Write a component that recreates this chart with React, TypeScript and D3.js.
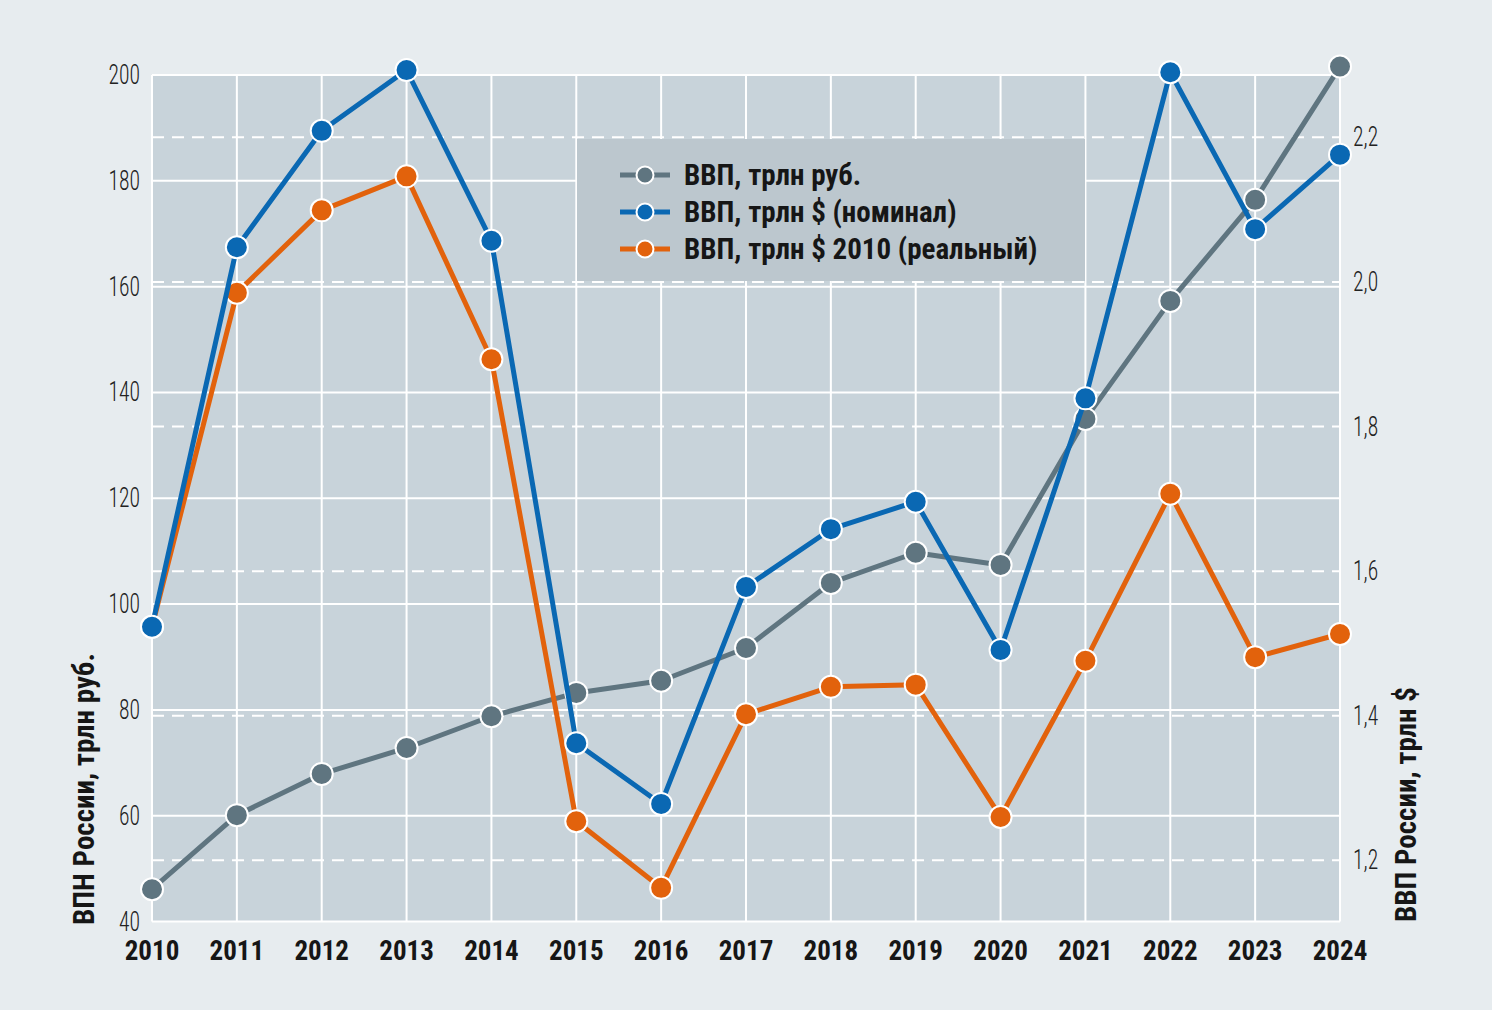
import React, { useEffect, useRef } from "react";
import * as d3 from "d3";

const years = [2010, 2011, 2012, 2013, 2014, 2015, 2016, 2017, 2018, 2019, 2020, 2021, 2022, 2023, 2024];
const gdpRub = [46.1, 60.1, 67.9, 72.8, 78.8, 83.2, 85.5, 91.7, 104.0, 109.7, 107.4, 135.0, 157.3, 176.4, 201.6];
const gdpUsdNominal = [1.523, 2.048, 2.209, 2.293, 2.057, 1.362, 1.278, 1.578, 1.658, 1.696, 1.491, 1.839, 2.29, 2.073, 2.176];
const gdpUsdReal = [1.523, 1.985, 2.099, 2.146, 1.893, 1.254, 1.162, 1.402, 1.44, 1.443, 1.26, 1.476, 1.707, 1.481, 1.513];
const leftTicks = [40, 60, 80, 100, 120, 140, 160, 180, 200];
const rightTicks = [1.2, 1.4, 1.6, 1.8, 2.0, 2.2];
const legendLabels = ["ВВП, трлн руб.", "ВВП, трлн $ (номинал)", "ВВП, трлн $ 2010 (реальный)"];

const colors = ["#5f7580", "#0a68b3", "#e2620c"];
const condensed = "'Roboto Condensed', 'Liberation Sans Narrow', 'DejaVu Sans Condensed', Roboto, sans-serif";

const App = () => {
  const svgRef = useRef<SVGSVGElement>(null);

  useEffect(() => {
    const W = 1492;
    const H = 1010;
    const m = { top: 75, left: 152, right: 1340, bottom: 921.5 };

    const svg = d3.select(svgRef.current).attr("width", W).attr("height", H);
    svg.selectAll("*").remove();

    svg.append("rect").attr("width", W).attr("height", H).attr("fill", "#e7ecef");

    const x = d3.scaleLinear().domain([2010, 2024]).range([m.left, m.right]);
    const yL = d3.scaleLinear().domain([40, 200]).range([m.bottom, m.top]);
    const yR = d3.scaleLinear().domain([1.1154, 2.2862]).range([m.bottom, m.top]);

    svg
      .append("rect")
      .attr("x", m.left)
      .attr("y", m.top)
      .attr("width", m.right - m.left)
      .attr("height", m.bottom - m.top)
      .attr("fill", "#c8d3da");

    const grid = svg.append("g");
    grid
      .selectAll(".hl")
      .data(leftTicks)
      .enter()
      .append("line")
      .attr("x1", m.left)
      .attr("x2", m.right)
      .attr("y1", (d) => yL(d))
      .attr("y2", (d) => yL(d))
      .attr("stroke", "#fff")
      .attr("stroke-width", 2);
    grid
      .selectAll(".vl")
      .data(years)
      .enter()
      .append("line")
      .attr("x1", (d) => x(d))
      .attr("x2", (d) => x(d))
      .attr("y1", m.top)
      .attr("y2", m.bottom)
      .attr("stroke", "#fff")
      .attr("stroke-width", 2);
    grid
      .selectAll(".dl")
      .data(rightTicks)
      .enter()
      .append("line")
      .attr("x1", m.left)
      .attr("x2", m.right)
      .attr("y1", (d) => yR(d))
      .attr("y2", (d) => yR(d))
      .attr("stroke", "#fff")
      .attr("stroke-width", 2)
      .attr("stroke-dasharray", "12 8");

    // legend box
    const lg = svg.append("g");
    lg.append("rect")
      .attr("x", 577)
      .attr("y", 139)
      .attr("width", 508)
      .attr("height", 142)
      .attr("fill", "#bcc7ce");
    legendLabels.forEach((label, i) => {
      const cy = 175 + i * 37;
      lg.append("line")
        .attr("x1", 620)
        .attr("x2", 670)
        .attr("y1", cy)
        .attr("y2", cy)
        .attr("stroke", colors[i])
        .attr("stroke-width", 5);
      lg.append("circle")
        .attr("cx", 645)
        .attr("cy", cy)
        .attr("r", 8.5)
        .attr("fill", colors[i])
        .attr("stroke", "#fff")
        .attr("stroke-width", 2);
      lg.append("text")
        .attr("x", 684)
        .attr("y", cy + 10)
        .attr("font-family", condensed)
        .attr("font-weight", 700)
        .attr("font-size", 29)
        .attr("fill", "#161616")
        .text(label);
    });

    const series = [
      { vals: gdpRub, y: yL },
      { vals: gdpUsdNominal, y: yR },
      { vals: gdpUsdReal, y: yR },
    ];
    // draw order: gray, orange, blue (blue on top at 2010)
    [0, 2, 1].forEach((si) => {
      const s = series[si];
      const pts = years.map((yr, i) => [x(yr), s.y(s.vals[i])] as [number, number]);
      svg
        .append("path")
        .attr("d", d3.line()(pts))
        .attr("fill", "none")
        .attr("stroke", colors[si])
        .attr("stroke-width", 5)
        .attr("stroke-linejoin", "round");
      svg
        .append("g")
        .selectAll("circle")
        .data(pts)
        .enter()
        .append("circle")
        .attr("cx", (d) => d[0])
        .attr("cy", (d) => d[1])
        .attr("r", 11)
        .attr("fill", colors[si])
        .attr("stroke", "#fff")
        .attr("stroke-width", 2);
    });

    // left tick labels (light, condensed look)
    svg
      .append("g")
      .selectAll("text")
      .data(leftTicks)
      .enter()
      .append("text")
      .attr("transform", (d) => `translate(140,${yL(d) + 9}) scale(0.8,1)`)
      .attr("text-anchor", "end")
      .attr("font-family", condensed)
      .attr("font-weight", 300)
      .attr("font-size", 27)
      .attr("fill", "#222")
      .text((d) => d);

    // right tick labels
    const fmt = (d: number) => d.toFixed(1).replace(".", ",");
    svg
      .append("g")
      .selectAll("text")
      .data(rightTicks)
      .enter()
      .append("text")
      .attr("transform", (d) => `translate(1353,${yR(d) + 9}) scale(0.8,1)`)
      .attr("font-family", condensed)
      .attr("font-weight", 300)
      .attr("font-size", 27)
      .attr("fill", "#222")
      .text(fmt);

    // x labels
    svg
      .append("g")
      .selectAll("text")
      .data(years)
      .enter()
      .append("text")
      .attr("x", (d) => x(d))
      .attr("y", 960)
      .attr("text-anchor", "middle")
      .attr("font-family", condensed)
      .attr("font-weight", 700)
      .attr("font-size", 27)
      .attr("fill", "#161616")
      .text((d) => d);

    // axis titles
    svg
      .append("text")
      .attr("transform", "translate(94,925) rotate(-90)")
      .attr("font-family", condensed)
      .attr("font-weight", 700)
      .attr("font-size", 29)
      .attr("fill", "#161616")
      .text("ВПН России, трлн руб.");
    svg
      .append("text")
      .attr("transform", "translate(1416,922) rotate(-90)")
      .attr("font-family", condensed)
      .attr("font-weight", 700)
      .attr("font-size", 29)
      .attr("fill", "#161616")
      .text("ВВП России, трлн $");
  }, []);

  return (
    <div style={{ position: "absolute", left: 0, top: 0 }}>
      <svg ref={svgRef}></svg>
    </div>
  );
};

export default App;
